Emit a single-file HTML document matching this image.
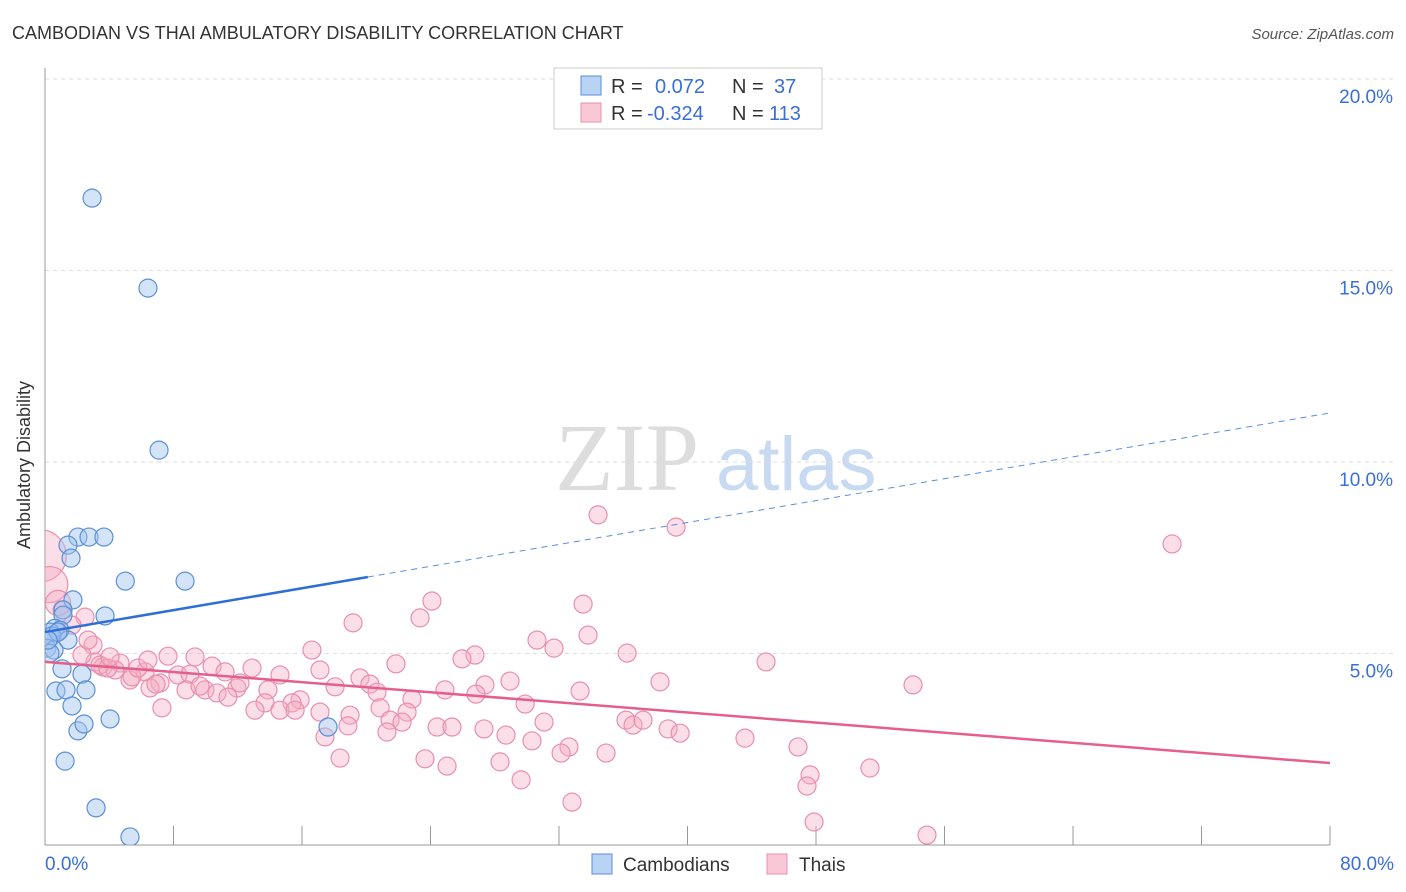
<!DOCTYPE html>
<html><head><meta charset="utf-8"><style>
body{margin:0;background:#fff;font-family:"Liberation Sans",sans-serif;}
svg{display:block}
</style></head><body>
<svg id="chart" width="1406" height="892" xmlns="http://www.w3.org/2000/svg">
<defs><clipPath id="plotclip"><rect x="45" y="60" width="1360" height="785"/></clipPath></defs>
<text x="12" y="39" font-size="18" fill="#333">CAMBODIAN VS THAI AMBULATORY DISABILITY CORRELATION CHART</text>
<text x="1394" y="39" font-size="15" fill="#555" font-style="italic" text-anchor="end">Source: ZipAtlas.com</text>
<g>
<text x="555" y="490" font-size="96" fill="#ddd" font-family="Liberation Serif,serif">ZIP</text>
<text x="716" y="490" font-size="76" fill="#c8daf2">atlas</text>
</g>
<g id="grid"></g>
<line x1="45" y1="68" x2="45" y2="845" stroke="#999"/>
<line x1="45" y1="845" x2="1330" y2="845" stroke="#999"/>
<g id="xticks"></g>
<text x="22" y="457" font-size="18" fill="#333" transform="rotate(-90 30 457)" text-anchor="middle">Ambulatory Disability</text>
<text x="45" y="870" font-size="19" fill="#3a6fd8">0.0%</text>
<text x="1394" y="870" font-size="19" fill="#3a6fd8" text-anchor="end">80.0%</text>
<g clip-path="url(#plotclip)"><g id="pink"></g><g id="blue"></g></g><g id="trends"></g>
<g>
<rect x="554" y="68" width="268" height="61" fill="#fff" stroke="#ccc"/>
<rect x="581" y="76" width="20" height="19" fill="#b9d3f5" stroke="#5b8fd6"/>
<rect x="581" y="103" width="20" height="19" fill="#f9c8d6" stroke="#e890ab"/>
<text x="611" y="93" font-size="20" fill="#333">R = <tspan fill="#3a6fd8" x="655">0.072</tspan><tspan x="732">N = </tspan><tspan fill="#3a6fd8" x="774">37</tspan></text>
<text x="611" y="120" font-size="20" fill="#333">R = <tspan fill="#3a6fd8" x="647">-0.324</tspan><tspan x="732">N = </tspan><tspan fill="#3a6fd8" x="769">113</tspan></text>
</g>
<g>
<rect x="592" y="854" width="20" height="20" fill="#b9d3f5" stroke="#5b8fd6"/>
<text x="623" y="871" font-size="19" fill="#333">Cambodians</text>
<rect x="767" y="854" width="20" height="20" fill="#f9c8d6" stroke="#e890ab"/>
<text x="799" y="871" font-size="19" fill="#333">Thais</text>
</g>
</svg>
<script>
const yTicks=[5,10,15,20];
const yTickLabels=["5.0%","10.0%","15.0%","20.0%"];
const xTickVals=[0,8,16,24,32,40,48,56,64,72,80];
const blueX=[2.93,6.41,7.10,2.05,2.74,3.67,1.43,1.62,5.0,8.72,1.74,1.12,3.74,1.12,0.62,0.93,0.31,0.44,1.43,0.12,0.56,0.31,1.06,2.30,0.68,1.31,2.55,1.68,2.05,2.43,4.05,1.25,3.18,5.29,17.62,0.81,0.19];
const blueY=[16.89,14.54,10.31,8.04,8.04,8.04,7.83,7.49,6.89,6.89,6.40,6.14,5.98,6.0,5.66,5.61,5.56,5.46,5.35,5.14,5.09,5.01,4.60,4.46,4.02,4.05,4.05,3.63,2.98,3.16,3.29,2.19,0.97,0.21,3.08,5.56,5.35];
const pinkX=[34.43,39.29,70.17,33.50,24.09,23.35,19.18,33.81,30.63,31.69,16.62,36.24,26.77,25.96,21.85,44.89,7.66,9.34,17.12,3.11,3.61,4.67,4.36,6.23,8.28,9.03,10.40,11.21,12.89,14.63,19.61,28.95,27.39,33.31,38.29,54.04,20.23,24.90,26.83,20.67,9.96,11.95,7.16,5.29,6.54,5.42,10.71,11.39,13.88,18.06,22.85,15.88,15.38,13.70,14.63,13.07,7.28,17.12,20.86,18.99,22.54,29.89,21.48,22.23,31.07,24.41,25.34,27.33,36.17,36.61,37.23,38.79,39.54,43.58,46.88,32.62,30.32,28.70,17.43,18.86,21.29,18.37,23.66,25.03,28.33,32.13,34.93,47.63,47.44,51.36,29.64,32.81,47.88,54.91,2.49,2.99,2.30,1.68,2.68,3.42,3.92,5.79,1.06,4.05,12.14,15.57,8.78,6.41,9.65,6.91,0.93,-0.3,0.3,0.81];
const pinkY=[8.62,8.30,7.86,6.29,6.37,5.93,5.80,5.48,5.35,5.14,5.09,5.01,4.96,4.86,4.73,4.78,4.93,4.91,4.57,4.78,4.65,4.75,4.57,4.52,4.44,4.46,4.67,4.52,4.62,4.44,4.36,4.28,4.18,4.02,4.26,4.18,4.20,4.05,3.94,3.99,4.05,4.10,4.23,4.31,4.10,4.39,3.97,3.86,4.05,4.13,3.81,3.79,3.71,3.71,3.52,3.52,3.58,3.47,3.58,3.39,3.47,3.68,3.26,3.21,3.21,3.08,3.08,3.03,3.26,3.13,3.26,3.03,2.92,2.79,2.56,2.56,2.72,2.87,2.82,3.11,2.95,2.27,2.25,2.06,2.17,2.40,2.40,1.83,1.54,2.01,1.70,1.12,0.60,0.26,5.95,5.22,4.96,5.74,5.35,4.70,4.62,4.62,6.14,4.91,4.23,3.52,4.05,4.83,4.15,4.20,5.61,7.55,6.80,6.32];
const pinkWeight=[1,1,1,1,1,1,1,1,1,1,1,1,1,1,1,1,1,1,1,1,1,1,1,1,1,1,1,1,1,1,1,1,1,1,1,1,1,1,1,1,1,1,1,1,1,1,1,1,1,1,1,1,1,1,1,1,1,1,1,1,1,1,1,1,1,1,1,1,1,1,1,1,1,1,1,1,1,1,1,1,1,1,1,1,1,1,1,1,1,1,1,1,1,1,1,1,1,1,1,1,1,1,1,1,1,1,1,1,1,1,1,2.9,2.0,1.4];
const blueTrend=[5.56,11.28], blueSolidEnd=20.1;
const pinkTrend=[4.78,2.14];
const X=v=>45+v/80*1285, Y=v=>845-v*38.3;
const NS="http://www.w3.org/2000/svg";
function mk(tag,attrs,parent){const e=document.createElementNS(NS,tag);for(const k in attrs)e.setAttribute(k,attrs[k]);parent.appendChild(e);return e;}
const grid=document.getElementById('grid');
yTicks.forEach((t,i)=>{
 const l=mk('line',{x1:45,x2:1393,y1:Y(t),y2:Y(t),stroke:'#ddd','stroke-dasharray':'4,4'},grid);
 
 
 const tx=mk('text',{x:1393,y:Y(t)+24,'font-size':19,fill:'#3a6fd8','text-anchor':'end'},grid);
 tx.textContent=yTickLabels[i];
 
 
});
const xt=document.getElementById('xticks');
xTickVals.forEach(v=>{
 const l=mk('line',{x1:X(v),x2:X(v),y1:826,y2:845,stroke:'#999'},xt);
 
 
});
const pg=document.getElementById('pink');
pinkX.forEach((x,i)=>{
 const c=mk('circle',{cx:X(x),cy:Y(pinkY[i]),r:9*pinkWeight[i],fill:'rgba(246,172,196,0.4)',stroke:'#e98fae','stroke-width':1.2},pg);
 
 
});
const bg=document.getElementById('blue');
blueX.forEach((x,i)=>{
 const c=mk('circle',{cx:X(x),cy:Y(blueY[i]),r:9,fill:'rgba(160,196,240,0.45)',stroke:'#5b8fd6','stroke-width':1.2},bg);
 
 
});
const tg=document.getElementById('trends');
const bAt=v=>blueTrend[0]+(blueTrend[1]-blueTrend[0])*v/80;
let l1=mk('line',{x1:X(0),y1:Y(bAt(0)),x2:X(blueSolidEnd),y2:Y(bAt(blueSolidEnd)),stroke:'#2d6fd6','stroke-width':2.5},tg);


let l2=mk('line',{x1:X(blueSolidEnd),y1:Y(bAt(blueSolidEnd)),x2:X(80),y2:Y(bAt(80)),stroke:'#5b8fd6','stroke-width':1,'stroke-dasharray':'6,5'},tg);


let l3=mk('line',{x1:X(0),y1:Y(pinkTrend[0]),x2:X(80),y2:Y(pinkTrend[1]),stroke:'#e45f8d','stroke-width':2.5},tg);


</script>
</body></html>
